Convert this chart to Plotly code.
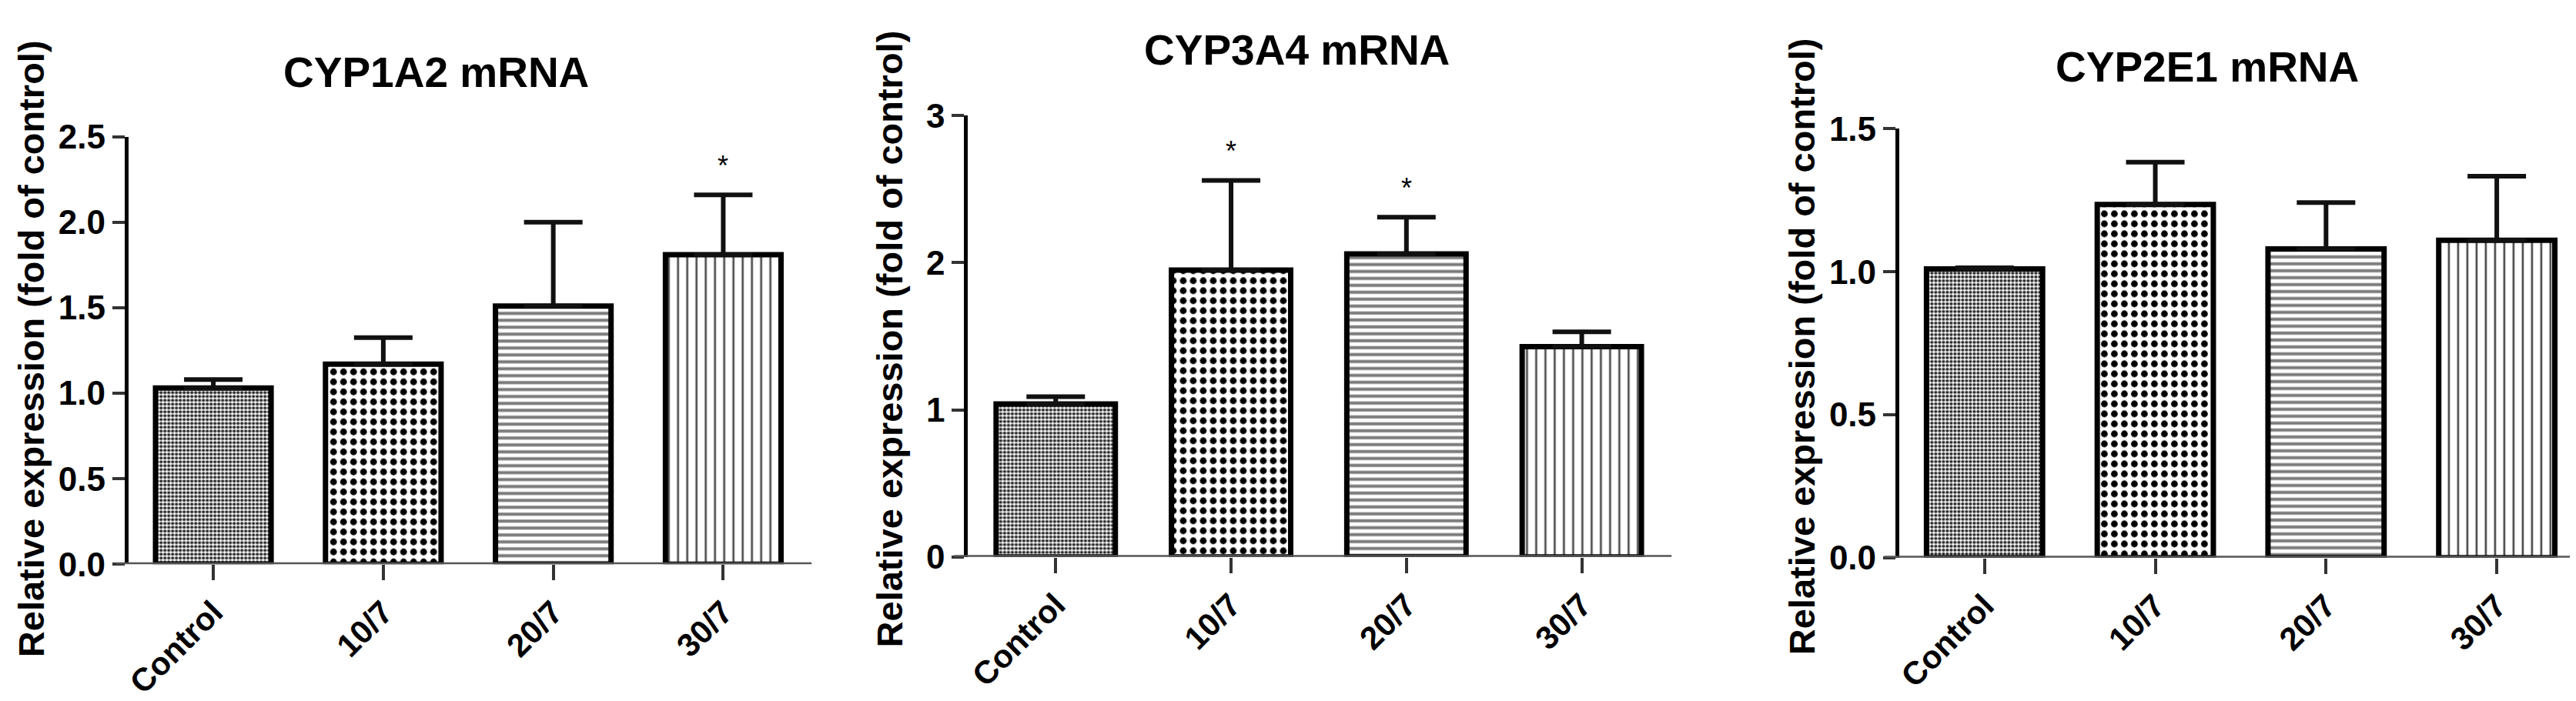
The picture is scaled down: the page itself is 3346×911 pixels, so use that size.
import plotly.graph_objects as go

# Relative mRNA expression (fold of control), mean + upper error bar
groups = ["Control", "10/7", "20/7", "30/7"]

cyp1a2_mean = [1.03, 1.17, 1.51, 1.81]
cyp1a2_err = [0.05, 0.155, 0.49, 0.35]
cyp1a2_sig = ["", "", "", "*"]

cyp3a4_mean = [1.04, 1.95, 2.06, 1.43]
cyp3a4_err = [0.05, 0.61, 0.25, 0.10]
cyp3a4_sig = ["", "*", "*", ""]

cyp2e1_mean = [1.01, 1.235, 1.08, 1.11]
cyp2e1_err = [0.004, 0.148, 0.162, 0.224]
cyp2e1_sig = ["", "", "", ""]

panel_titles = ["CYP1A2 mRNA", "CYP3A4 mRNA", "CYP2E1 mRNA"]
y_title = "Relative expression (fold of control)"

FONT = "Liberation Sans, Arial, sans-serif"

# bar fill patterns: fine checker, coarse checker, horizontal lines, vertical lines
pat_shape = [".", ".", "-", "|"]
pat_size = [5, 13, 9, 12]
pat_solid = [0.55, 0.36, 0.45, 0.22]
pat_fg = ["#2a2a2a", "#000000", "#7a7a7a", "#4a4a4a"]

panels = [
    dict(mean=cyp1a2_mean, err=cyp1a2_err, sig=cyp1a2_sig, ymax=2.5, dtick=0.5, fmt=".1f",
         xdom=[0.04543, 0.30992], ydom=[0.1877, 0.8321], ext=[-0.018, 1.005],
         title_xy=(0.1653, 0.9297), ytitle_xy=(0.0075, 0.5126)),
    dict(mean=cyp3a4_mean, err=cyp3a4_err, sig=cyp3a4_sig, ymax=3, dtick=1, fmt="d",
         xdom=[0.37209, 0.64495], ydom=[0.1987, 0.8639], ext=[-0.02, 1.003],
         title_xy=(0.5, 0.9627), ytitle_xy=(0.3416, 0.5269)),
    dict(mean=cyp2e1_mean, err=cyp2e1_err, sig=cyp2e1_sig, ymax=1.5, dtick=0.5, fmt=".1f",
         xdom=[0.73431, 1.0], ydom=[0.1976, 0.8441], ext=[-0.022, 1.0],
         title_xy=(0.8542, 0.9374), ytitle_xy=(0.6963, 0.5159)),
]

fig = go.Figure()
layout = dict(
    width=3346, height=911,
    margin=dict(l=0, r=0, t=0, b=0),
    paper_bgcolor="white", plot_bgcolor="white",
    showlegend=False, bargap=0.32,
    font=dict(family=FONT, color="black"),
)
annotations = []
shapes = []

for i, p in enumerate(panels):
    n = "" if i == 0 else str(i + 1)
    xa, ya = "x" + n, "y" + n

    fig.add_trace(go.Bar(
        x=groups, y=p["mean"], xaxis=xa, yaxis=ya,
        marker=dict(
            color="white",
            line=dict(color="black", width=7),
            pattern=dict(shape=pat_shape, size=pat_size, solidity=pat_solid,
                         fgcolor=pat_fg, bgcolor="white", fillmode="replace"),
        ),
        error_y=dict(type="data", symmetric=False, array=p["err"],
                     arrayminus=[0] * len(groups), color="#111111",
                     thickness=6, width=38),
    ))

    layout["xaxis" + n] = dict(
        domain=p["xdom"], anchor=ya, type="category", range=[-0.5, 3.5],
        showline=False, showgrid=False, zeroline=False,
        ticks="outside", ticklen=20, tickwidth=4, tickcolor="#333333",
        tickangle=-45, tickfont=dict(family=FONT, size=42, weight="bold"),
    )
    layout["yaxis" + n] = dict(
        domain=p["ydom"], anchor=xa, range=[0, p["ymax"]], dtick=p["dtick"],
        tickformat=p["fmt"], showgrid=False, zeroline=False,
        showline=True, linecolor="black", linewidth=5,
        ticks="outside", ticklen=16, tickwidth=4, tickcolor="#333333",
        tickfont=dict(family=FONT, size=44, weight="bold"),
    )

    # GraphPad-style baseline running slightly past the y axis
    shapes.append(dict(type="line", xref=xa + " domain", yref=ya,
                       x0=p["ext"][0], x1=p["ext"][1], y0=0, y1=0,
                       line=dict(color="#555555", width=5), layer="above"))

    annotations.append(dict(text=panel_titles[i], xref="paper", yref="paper",
                            x=p["title_xy"][0], y=p["title_xy"][1],
                            xanchor="center", yanchor="middle", showarrow=False,
                            font=dict(family=FONT, size=55, weight="bold")))
    annotations.append(dict(text=y_title, xref="paper", yref="paper",
                            x=p["ytitle_xy"][0], y=p["ytitle_xy"][1], textangle=-90,
                            xanchor="center", yanchor="middle", showarrow=False,
                            font=dict(family=FONT, size=47, weight="bold")))

    for g, m, e, s in zip(groups, p["mean"], p["err"], p["sig"]):
        if s:
            annotations.append(dict(text=s, x=g, y=m + e, xref=xa, yref=ya,
                                    yanchor="middle", yshift=38, showarrow=False,
                                    font=dict(family=FONT, size=36)))

layout["annotations"] = annotations
layout["shapes"] = shapes
fig.update_layout(**layout)

fig.write_html("out.html")
